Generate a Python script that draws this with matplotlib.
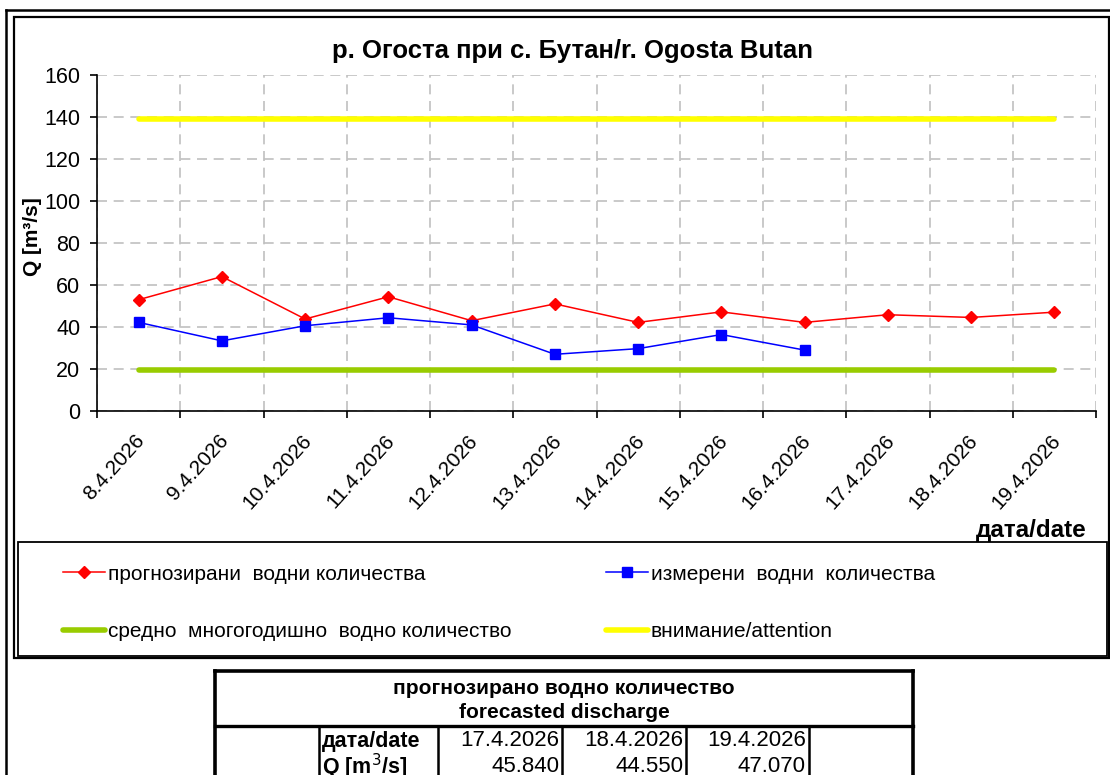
import numpy as np
import matplotlib
matplotlib.use('Agg')
import matplotlib.pyplot as plt
from matplotlib.lines import Line2D
from matplotlib.patches import Rectangle
import matplotlib.transforms as mtransforms

plt.rcParams['font.family'] = ['Liberation Sans', 'DejaVu Sans']

# data
dates = ['8.4.2026', '9.4.2026', '10.4.2026', '11.4.2026', '12.4.2026', '13.4.2026',
         '14.4.2026', '15.4.2026', '16.4.2026', '17.4.2026', '18.4.2026', '19.4.2026']
forecast = [53.0, 64.0, 43.8, 54.4, 43.0, 51.0, 42.2, 47.2, 42.2, 45.84, 44.55, 47.07]
measured = [42.2, 33.4, 40.6, 44.4, 41.0, 27.0, 29.7, 36.4, 29.0]
mean_q = 19.6
attention_q = 139.0

table_dates = ['17.4.2026', '18.4.2026', '19.4.2026']
table_values = ['45.840', '44.550', '47.070']

lbl_fc = 'прогнозирани  водни количества'
lbl_ms = 'измерени  водни  количества'
lbl_mean = 'средно  многогодишно  водно количество'
lbl_att = 'внимание/attention'

W, H = 1110, 775
def fx(x): return x / W
def fy(y): return 1 - y / H

fig = plt.figure(figsize=(11.1, 7.75), dpi=100)
ax = fig.add_axes([fx(97), fy(411), fx(1096) - fx(97), fy(75) - fy(411)])

n = len(dates)
x = np.arange(n) + 0.5

l_att, = ax.plot(x, [attention_q] * n, color='#ffff00', lw=4, solid_capstyle='round', zorder=2)
l_mean, = ax.plot(x, [mean_q] * n, color='#99cc00', lw=4, solid_capstyle='round', zorder=2)
l_fc, = ax.plot(x, forecast, color='#ff0000', lw=1.1, marker='D', markersize=6, zorder=3)
l_ms, = ax.plot(x[:len(measured)], measured, color='#0000ff', lw=1.1, marker='s', markersize=7.5, zorder=4)

ax.set_xlim(0, n)
ax.set_ylim(0, 160)
ax.set_yticks(np.arange(0, 161, 20))
ax.set_xticks(np.arange(0, n + 1))
ax.set_xticklabels([])
ax.set_xticks(x, minor=True)
ax.set_xticklabels(dates, minor=True, rotation=48, ha='right', va='center', rotation_mode='anchor')
ax.tick_params(axis='x', which='minor', length=0, pad=19, labelsize=15)
ax.tick_params(axis='x', which='major', length=5, width=1.2, direction='out')
ax.tick_params(axis='y', length=5, width=1.2, direction='out', labelsize=15.5, pad=7)
offset = mtransforms.ScaledTranslation(3 / 100, 0, fig.dpi_scale_trans)
for t in ax.xaxis.get_minorticklabels():
    t.set_transform(t.get_transform() + offset)

ax.grid(True, which='major', color='#c0c0c0', linestyle=(0, (6, 4)), lw=1.2)
ax.set_axisbelow(True)
for s in ['top', 'right']:
    ax.spines[s].set_visible(False)
for s in ['left', 'bottom']:
    ax.spines[s].set_linewidth(1.2)

ax.set_ylabel('Q [m³/s]', fontsize=15, fontweight='bold')
ax.yaxis.set_label_coords((42 - 97) / 999, 0.52)

fig.text(fx(573), fy(51), 'р. Огоста при с. Бутан/r. Ogosta Butan', ha='center', va='center',
         fontsize=18.5, fontweight='bold')
fig.text(fx(1087), fy(530), 'дата/date', ha='right', va='center', fontsize=17.5, fontweight='bold')

# frames
fig.add_artist(Line2D([fx(5.5), fx(5.5)], [fy(10), 0], color='black', lw=1.8))
fig.add_artist(Line2D([fx(5.5), 1], [fy(10), fy(10)], color='black', lw=1.8))
fig.add_artist(Rectangle((fx(14), fy(658)), fx(1109) - fx(14), fy(17) - fy(658),
                         transform=fig.transFigure, fill=False, edgecolor='black', lw=1.6))
fig.add_artist(Rectangle((fx(18), fy(656)), fx(1107) - fx(18), fy(542) - fy(656),
                         transform=fig.transFigure, fill=False, edgecolor='black', lw=1.3))

leg_kw = dict(frameon=False, fontsize=15, handlelength=2.0, handletextpad=0.15,
              labelspacing=1.85, borderpad=0, borderaxespad=0, loc='center left')
leg1 = fig.legend([l_fc, l_mean], [lbl_fc, lbl_mean], bbox_to_anchor=(fx(63), fy(603)), **leg_kw)
leg2 = fig.legend([l_ms, l_att], [lbl_ms, lbl_att], bbox_to_anchor=(fx(606), fy(603)), **leg_kw)

# forecast table
narrow = ['Liberation Sans Narrow', 'Liberation Sans', 'DejaVu Sans']
def hline(x0, x1, y, lw):
    fig.add_artist(Line2D([fx(x0), fx(x1)], [fy(y), fy(y)], color='black', lw=lw, solid_capstyle='projecting'))
def vline(x, y0, y1, lw):
    fig.add_artist(Line2D([fx(x), fx(x)], [fy(y0), fy(y1)], color='black', lw=lw, solid_capstyle='projecting'))

hline(215, 913, 671, 2.6)
hline(215, 913, 725.5, 2.4)
vline(215, 671, 775, 2.6)
vline(913, 671, 775, 2.6)
col_x = [319, 437.5, 562, 686, 809]
for cx in col_x:
    vline(cx, 726, 775, 1.8)

fig.text(fx(564), fy(689), 'прогнозирано водно количество', ha='center', va='center',
         fontsize=15, fontweight='bold', family=narrow)
fig.text(fx(564), fy(712), 'forecasted discharge', ha='center', va='center',
         fontsize=15, fontweight='bold', family=narrow)
fig.text(fx(322), fy(741), 'дата/date', ha='left', va='center', fontsize=15.5, fontweight='bold', family=narrow)
fig.text(fx(322), fy(767), 'Q [m$^3$/s]', ha='left', va='center', fontsize=15.5, fontweight='bold', family=narrow)
for i in range(len(table_dates)):
    fig.text(fx(col_x[i + 2] - 3), fy(741), table_dates[i], ha='right', va='center', fontsize=16, family=narrow)
    fig.text(fx(col_x[i + 2] - 3), fy(767), table_values[i], ha='right', va='center', fontsize=16, family=narrow)

plt.savefig('out.png', dpi=100)
